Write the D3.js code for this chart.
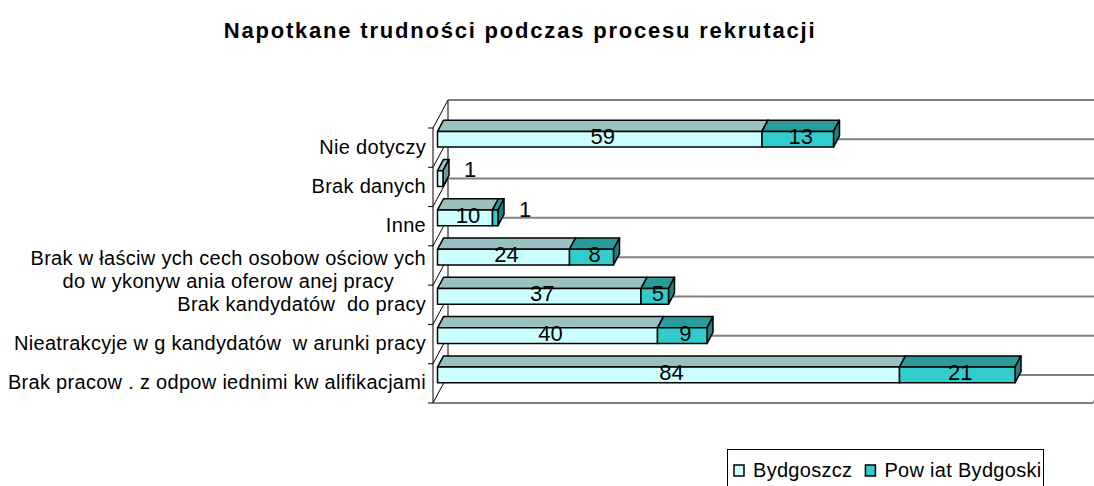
<!DOCTYPE html>
<html>
<head>
<meta charset="utf-8">
<script src="https://cdn.jsdelivr.net/npm/d3@7"></script>
<style>
  body { margin: 0; background: #fff; }
  text { font-family: "Liberation Sans", Arial, sans-serif; white-space: pre; }
</style>
</head>
<body>
<svg id="chart" width="1094" height="486"></svg>
<script>
'use strict';

// chart data (top to bottom as shown)
var title = "Napotkane trudności podczas procesu rekrutacji";
var categories = [
    "Nie dotyczy",
    "Brak danych",
    "Inne",
    "Brak w łaściw ych cech osobow ościow ych\ndo w ykonyw ania oferow anej pracy",
    "Brak kandydatów  do pracy",
    "Nieatrakcyje w g kandydatów  w arunki pracy",
    "Brak pracow . z odpow iednimi kw alifikacjami"
];
var seriesNames = ["Bydgoszcz", "Pow iat Bydgoski"];
var bydgoszcz = [59, 1, 10, 24, 37, 40, 84];
var powiat = [13, 0, 1, 8, 5, 9, 21];
var valueMax = 120;

var colors = [
    { front: "#CCFFFF", top: "#99C1C0", side: "#6E9C9C" },
    { front: "#33CCCC", top: "#289B9A", side: "#1F7E7E" }
];

var svg = d3.select("#chart");
var width = 1094, height = 486;

var plot = { left: 433, right: 1093, top: 128, bottom: 403 };
var depth = { dx: 15, dy: -28 };
var barDepth = [0.3, 0.7];

var x = d3.scaleLinear().domain([0, valueMax]).range([plot.left, plot.right]);
var yCat = d3.scaleBand().domain(categories).range([plot.top, plot.bottom]);
var yBar = d3.scaleBand().domain(categories).range([plot.top, plot.bottom])
    .paddingInner(0.6).paddingOuter(0.3);

svg.append("rect").attr("width", width).attr("height", height).attr("fill", "#fff");

// title
svg.append("text")
    .attr("x", 520)
    .attr("y", 38)
    .attr("text-anchor", "middle")
    .style("font-size", "22px")
    .style("font-weight", "bold")
    .style("letter-spacing", "1.8px")
    .text(title);

// walls
var boundaries = categories.map(function (c) { return yCat(c); }).concat([plot.bottom]);
var walls = svg.append("g");

walls.selectAll("line.grid")
    .data(boundaries)
    .enter().append("line")
    .attr("class", "grid")
    .attr("x1", plot.left + depth.dx)
    .attr("x2", width)
    .attr("y1", function (d) { return d + depth.dy; })
    .attr("y2", function (d) { return d + depth.dy; })
    .attr("stroke", "#808080")
    .attr("stroke-width", 2);

walls.append("line")
    .attr("x1", plot.left + depth.dx).attr("x2", plot.left + depth.dx)
    .attr("y1", plot.top + depth.dy).attr("y2", plot.bottom + depth.dy)
    .attr("stroke", "#808080").attr("stroke-width", 2);

walls.selectAll("line.diag")
    .data(boundaries)
    .enter().append("line")
    .attr("class", "diag")
    .attr("x1", plot.left)
    .attr("x2", plot.left + depth.dx)
    .attr("y1", function (d) { return d; })
    .attr("y2", function (d) { return d + depth.dy; })
    .attr("stroke", "#000")
    .attr("stroke-width", 1);

// floor front edge
walls.append("line")
    .attr("x1", plot.left).attr("x2", plot.right)
    .attr("y1", plot.bottom).attr("y2", plot.bottom)
    .attr("stroke", "#808080").attr("stroke-width", 2);
walls.append("line")
    .attr("x1", plot.right).attr("x2", plot.right + depth.dx)
    .attr("y1", plot.bottom).attr("y2", plot.bottom + depth.dy)
    .attr("stroke", "#808080").attr("stroke-width", 1.5);

// category axis
walls.append("line")
    .attr("x1", plot.left).attr("x2", plot.left)
    .attr("y1", plot.top).attr("y2", plot.bottom)
    .attr("stroke", "#000").attr("stroke-width", 1);

walls.selectAll("line.tick")
    .data(boundaries)
    .enter().append("line")
    .attr("class", "tick")
    .attr("x1", plot.left - 5).attr("x2", plot.left)
    .attr("y1", function (d) { return d; })
    .attr("y2", function (d) { return d; })
    .attr("stroke", "#000").attr("stroke-width", 1);

// category labels
var labelRight = 426;
var lineH = 23.5;
categories.forEach(function (c) {
    var lines = c.split("\n");
    var cy = yCat(c) + yCat.bandwidth() / 2;
    var shift = lines.length > 1 ? 4 : -1;
    var g = svg.append("g");
    var texts = lines.map(function (t, i) {
        return g.append("text")
            .attr("y", cy + shift + (i - (lines.length - 1) / 2) * lineH)
            .attr("dy", "0.35em")
            .style("font-size", "20px")
            .style("letter-spacing", "0.3px")
            .text(t);
    });
    var maxW = d3.max(texts, function (t) { return t.node().getComputedTextLength(); });
    texts.forEach(function (t) {
        if (lines.length > 1) {
            t.attr("x", labelRight - maxW / 2).attr("text-anchor", "middle");
        } else {
            t.attr("x", labelRight).attr("text-anchor", "end");
        }
    });
});

// bars
var ox = depth.dx * barDepth[0], oy = depth.dy * barDepth[0];
var bx = depth.dx * (barDepth[1] - barDepth[0]), by = depth.dy * (barDepth[1] - barDepth[0]);
var bars = svg.append("g");
var labels = [];

categories.forEach(function (c, i) {
    var vals = [bydgoszcz[i], powiat[i]];
    var total = d3.sum(vals);
    var cum = 0;
    vals.forEach(function (v, s) {
        var v0 = cum, v1 = cum + v;
        cum = v1;
        if (!v) return;
        var x0 = x(v0) + ox, x1 = x(v1) + ox;
        var yT = yBar(c) + oy, yB = yT + yBar.bandwidth();
        var col = colors[s];

        bars.append("polygon")
            .attr("points", [[x0, yT], [x0 + bx, yT + by], [x1 + bx, yT + by], [x1, yT]].join(" "))
            .attr("fill", col.top);
        bars.append("polygon")
            .attr("points", [[x1, yT], [x1 + bx, yT + by], [x1 + bx, yB + by], [x1, yB]].join(" "))
            .attr("fill", col.side);
        bars.append("rect")
            .attr("x", x0).attr("y", yT)
            .attr("width", x1 - x0).attr("height", yB - yT)
            .attr("fill", col.front);

        if (x1 - x0 >= 20) {
            labels.push({ x: (x0 + x1) / 2 + 3, y: yB - 3, v: v });
        } else {
            labels.push({ x: x(total) + ox + 27, y: yB - 9, v: v });
        }
    });
});

bars.selectAll("polygon, rect")
    .attr("stroke", "#000").attr("stroke-width", 1.5).attr("stroke-linejoin", "round");

svg.append("g").selectAll("text")
    .data(labels)
    .enter().append("text")
    .attr("x", function (d) { return d.x; })
    .attr("y", function (d) { return d.y; })
    .attr("text-anchor", "middle")
    .style("font-size", "22px")
    .text(function (d) { return d.v; });

// legend
var legend = svg.append("g");
legend.append("rect")
    .attr("x", 727.5).attr("y", 449.5)
    .attr("width", 316).attr("height", 40)
    .attr("fill", "#fff")
    .attr("stroke", "#000").attr("stroke-width", 1);

var lx = 734;
seriesNames.forEach(function (name, s) {
    legend.append("rect")
        .attr("x", lx).attr("y", 465)
        .attr("width", 10).attr("height", 11)
        .attr("fill", colors[s].front)
        .attr("stroke", "#000").attr("stroke-width", 1.5);
    var t = legend.append("text")
        .attr("x", lx + 19).attr("y", 477)
        .style("font-size", "20px")
        .style("letter-spacing", "0.3px")
        .text(name);
    lx += 19 + t.node().getComputedTextLength() + 13;
});
</script>
</body>
</html>
